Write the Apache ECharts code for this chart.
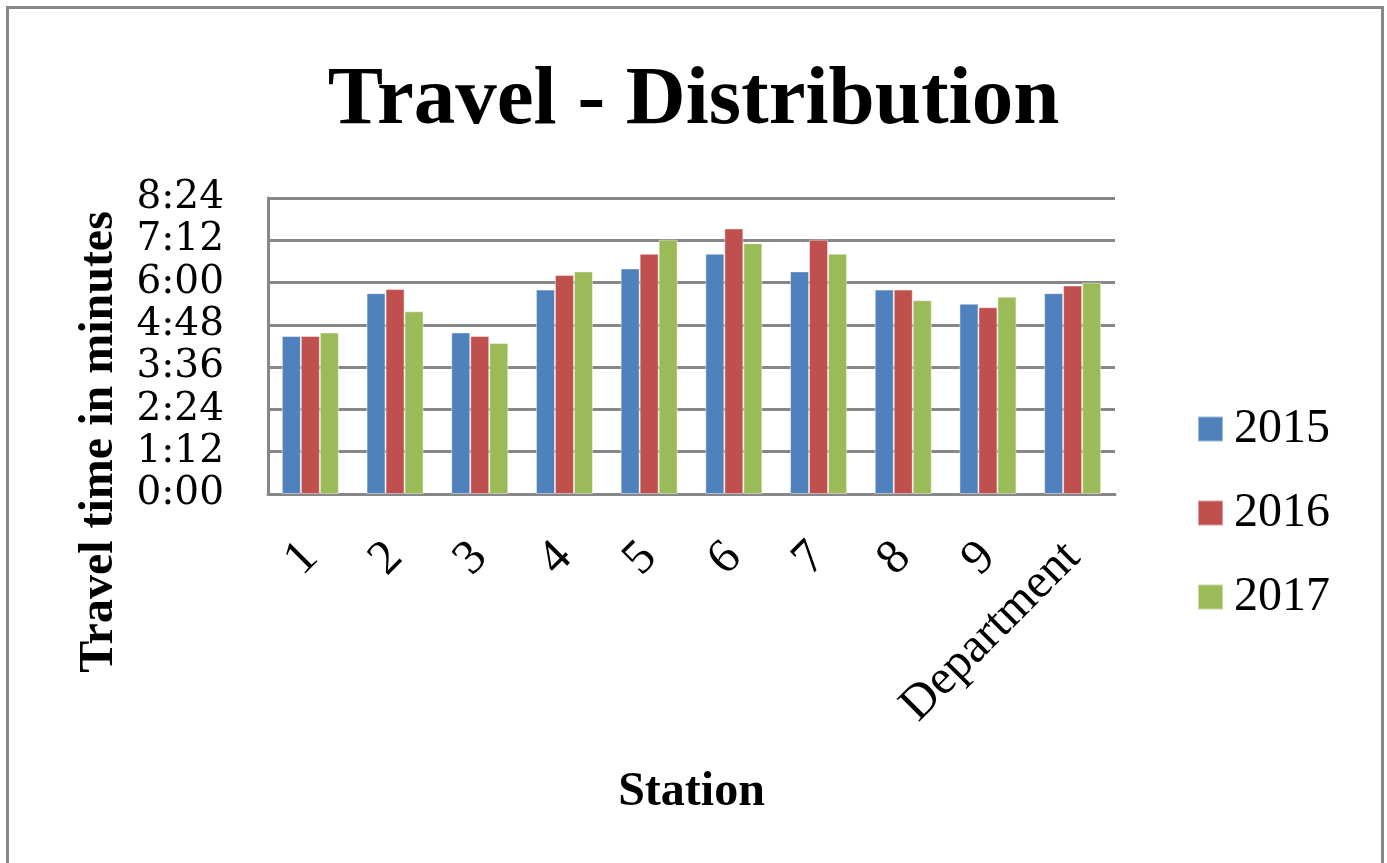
<!DOCTYPE html>
<html>
<head>
<meta charset="utf-8">
<style>
  html, body { margin: 0; padding: 0; background: #ffffff; }
  #chart { width: 1387px; height: 863px; }
</style>
<script src="https://cdn.jsdelivr.net/npm/echarts@6/dist/echarts.min.js"></script>
</head>
<body>
<div id="chart"></div>
<script>
// Stations along the x axis
const stations = ['1', '2', '3', '4', '5', '6', '7', '8', '9', 'Department'];
// Travel times per year, in seconds
const years = ['2015', '2016', '2017'];
const times2015 = [269, 342, 275, 348, 384, 409, 379, 348, 324, 342];
const times2016 = [269, 349, 269, 373, 409, 452, 433, 348, 318, 355];
const times2017 = [275, 311, 257, 379, 433, 427, 409, 330, 336, 360];
// Axis range in seconds (ticks every 1:12)
const axisMax = 504;
const axisStep = 72;

const colors = ['#4F81BD', '#C0504D', '#9BBB59'];
const serif = '"Liberation Serif", "Times New Roman", serif';
const tickSerif = '"DejaVu Serif", "Liberation Serif", serif';
const gridGray = '#878787';

function mmss(sec) {
  const m = Math.floor(sec / 60);
  const s = Math.round(sec % 60);
  return m + ':' + (s < 10 ? '0' + s : s);
}

const chart = echarts.init(document.getElementById('chart'), null, { renderer: 'canvas' });

const seriesValues = [times2015, times2016, times2017];

chart.setOption({
  backgroundColor: '#ffffff',
  animation: false,
  color: colors,
  title: {
    text: 'Travel - Distribution',
    left: 'center',
    top: 55,
    textStyle: { fontFamily: serif, fontSize: 83, fontWeight: 'bold', color: '#000' }
  },
  legend: {
    orient: 'vertical',
    left: 1192,
    top: 399,
    icon: 'rect',
    itemWidth: 25,
    itemHeight: 25,
    itemGap: 34,
    data: years,
    textStyle: { fontFamily: serif, fontSize: 48, color: '#000', lineHeight: 50, padding: [0, 0, 0, 6] }
  },
  grid: { left: 268, right: 272, top: 198, bottom: 369, containLabel: false },
  xAxis: {
    type: 'category',
    data: stations,
    name: 'Station',
    nameLocation: 'middle',
    nameGap: 275,
    nameTextStyle: { fontFamily: serif, fontSize: 48, fontWeight: 'bold', color: '#000' },
    axisLine: { show: true, lineStyle: { color: gridGray, width: 3 } },
    axisTick: { show: false },
    axisLabel: {
      rotate: 45,
      margin: 56,
      interval: 0,
      fontFamily: serif,
      fontSize: 49,
      color: '#000'
    }
  },
  yAxis: {
    type: 'value',
    min: 0,
    max: axisMax,
    interval: axisStep,
    axisLine: { show: true, lineStyle: { color: gridGray, width: 3 } },
    axisTick: { show: false },
    splitLine: { show: true, lineStyle: { color: gridGray, width: 3 } },
    axisLabel: {
      margin: 44,
      fontFamily: tickSerif,
      fontSize: 39,
      lineHeight: 30,
      color: '#000',
      showMinLabel: true,
      showMaxLabel: true,
      hideOverlap: false,
      formatter: mmss
    }
  },
  graphic: [
    {
      type: 'rect',
      shape: { x: 7.5, y: 7.5, width: 1375, height: 900 },
      style: { fill: 'none', stroke: gridGray, lineWidth: 3 },
      silent: true
    },
    {
      type: 'text',
      x: 100,
      y: 442,
      rotation: Math.PI / 2,
      style: {
        text: 'Travel time in minutes',
        fontFamily: serif,
        fontSize: 48,
        fontWeight: 'bold',
        fill: '#000',
        textAlign: 'center',
        textVerticalAlign: 'middle'
      },
      silent: true
    }
  ],
  series: years.map((y, i) => ({
    name: y,
    type: 'bar',
    data: seriesValues[i],
    barWidth: 19,
    barGap: '0%',
    itemStyle: { color: colors[i], borderColor: 'rgba(255,255,255,0.45)', borderWidth: 1 }
  }))
});
</script>
</body>
</html>
